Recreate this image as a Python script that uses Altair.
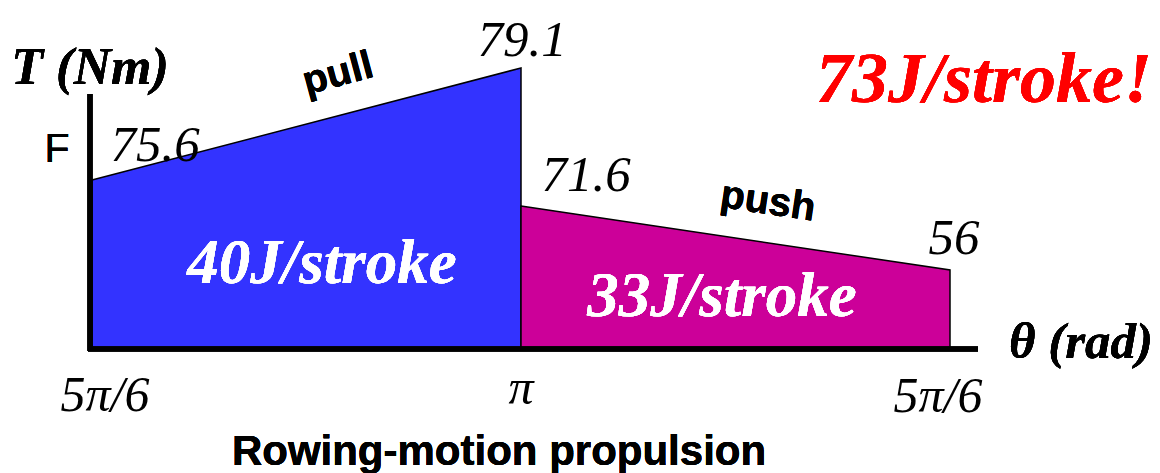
import altair as alt
import pandas as pd

# ---- data ----
phases = ["pull", "pull", "push", "push"]
theta_pi = [5 / 6, 1.0, 1.0, 7 / 6]          # angle in units of pi
torque = [75.6, 79.1, 71.6, 56.0]             # Nm
torque_labels = ["75.6", "79.1", "71.6", "56"]
phase_names = ["pull", "push"]
energy_labels = ["40J/stroke", "33J/stroke"]
total_label = "73J/stroke!"
tick_pos = [5 / 6, 1.0, 7 / 6]
tick_labels = ["5π/6", "π", "5π/6"]
phase_colors = ["#3333FF", "#CC0099"]

df = pd.DataFrame({"phase": phases, "theta": theta_pi, "torque": torque,
                   "label": torque_labels})
ticks = pd.DataFrame({"theta": tick_pos, "label": tick_labels})

SERIF = "Liberation Serif"
SANS = "Liberation Sans"

xscale = alt.Scale(domain=[0.797591, 1.248251], nice=False, zero=False)
# schematic (piecewise) torque axis, as in the drawing
yscale = alt.Scale(domain=[0, 56, 71.6, 75.6, 79.1], range=[348, 270, 206, 180, 68],
                   nice=False, zero=False)

X = alt.X("theta:Q", scale=xscale, axis=None)
Y = alt.Y("torque:Q", scale=yscale, axis=None)

areas = alt.Chart(df).mark_area(stroke="black", strokeWidth=1.5, opacity=1).encode(
    x=X, y=Y, y2=alt.datum(0),
    color=alt.Color("phase:N", scale=alt.Scale(domain=phase_names, range=phase_colors),
                    legend=None),
)

layers = [areas]

# axes lines
layers.append(alt.Chart(df).mark_rule(color="black", strokeWidth=5).encode(
    x=alt.value(90), y=alt.value(94), y2=alt.value(351)))
layers.append(alt.Chart(df).mark_rule(color="black", strokeWidth=5).encode(
    x=alt.value(88), x2=alt.value(978), y=alt.value(349)))

# torque value labels
val_offsets = [(63, -19), (1, -12), (65, -15), (4, -16)]
for i, (dx, dy) in enumerate(val_offsets):
    layers.append(alt.Chart(df.iloc[[i]]).mark_text(
        font=SERIF, fontStyle="italic", fontSize=51, baseline="alphabetic",
        align="center", dx=dx, dy=dy, color="black").encode(x=X, y=Y, text="label:N"))

# angle tick labels
tick_offsets = [(13, 62), (0, 55), (-12, 63)]
for i, (dx, dy) in enumerate(tick_offsets):
    layers.append(alt.Chart(ticks.iloc[[i]]).mark_text(
        font=SERIF, fontStyle="italic", fontSize=50, baseline="alphabetic",
        align="center", dx=dx, dy=dy, color="black").encode(
        x=alt.X("theta:Q", scale=xscale, axis=None), y=alt.value(349), text="label:N"))

def txt(text, x, y, size, color="black", font=SERIF, style="italic", weight="bold",
        angle=0, baseline="alphabetic"):
    kw = dict(font=font, fontSize=size, color=color, fontWeight=weight,
              align="center", baseline=baseline, text=text)
    if style:
        kw["fontStyle"] = style
    if angle:
        kw["angle"] = angle
    return alt.Chart(df).mark_text(**kw).encode(x=alt.value(x), y=alt.value(y))

layers += [
    txt("T (Nm)", 90, 84, 52),
    txt("F", 57, 162, 41, font=SANS, style=None, weight="normal"),
    txt("θ (rad)", 1081, 358, 51),
    txt(phase_names[0], 338, 74, 40, font=SANS, style=None, angle=345, baseline="middle"),
    txt(phase_names[1], 768, 202, 40, font=SANS, style=None, angle=8.5, baseline="middle"),
    txt(energy_labels[0], 322, 283, 63, color="white"),
    txt(energy_labels[1], 722, 316, 63, color="white"),
    txt(total_label, 984, 102, 72, color="#FF0000"),
    txt("Rowing-motion propulsion", 499, 465, 42, font=SANS, style=None),
]

chart = alt.layer(*layers).properties(
    width=1160, height=473, padding=0, autosize=alt.AutoSizeParams(type="none"),
    background="white",
).configure_view(stroke=None)

chart.save("out.html", embed_options={"renderer": "svg", "actions": False})
